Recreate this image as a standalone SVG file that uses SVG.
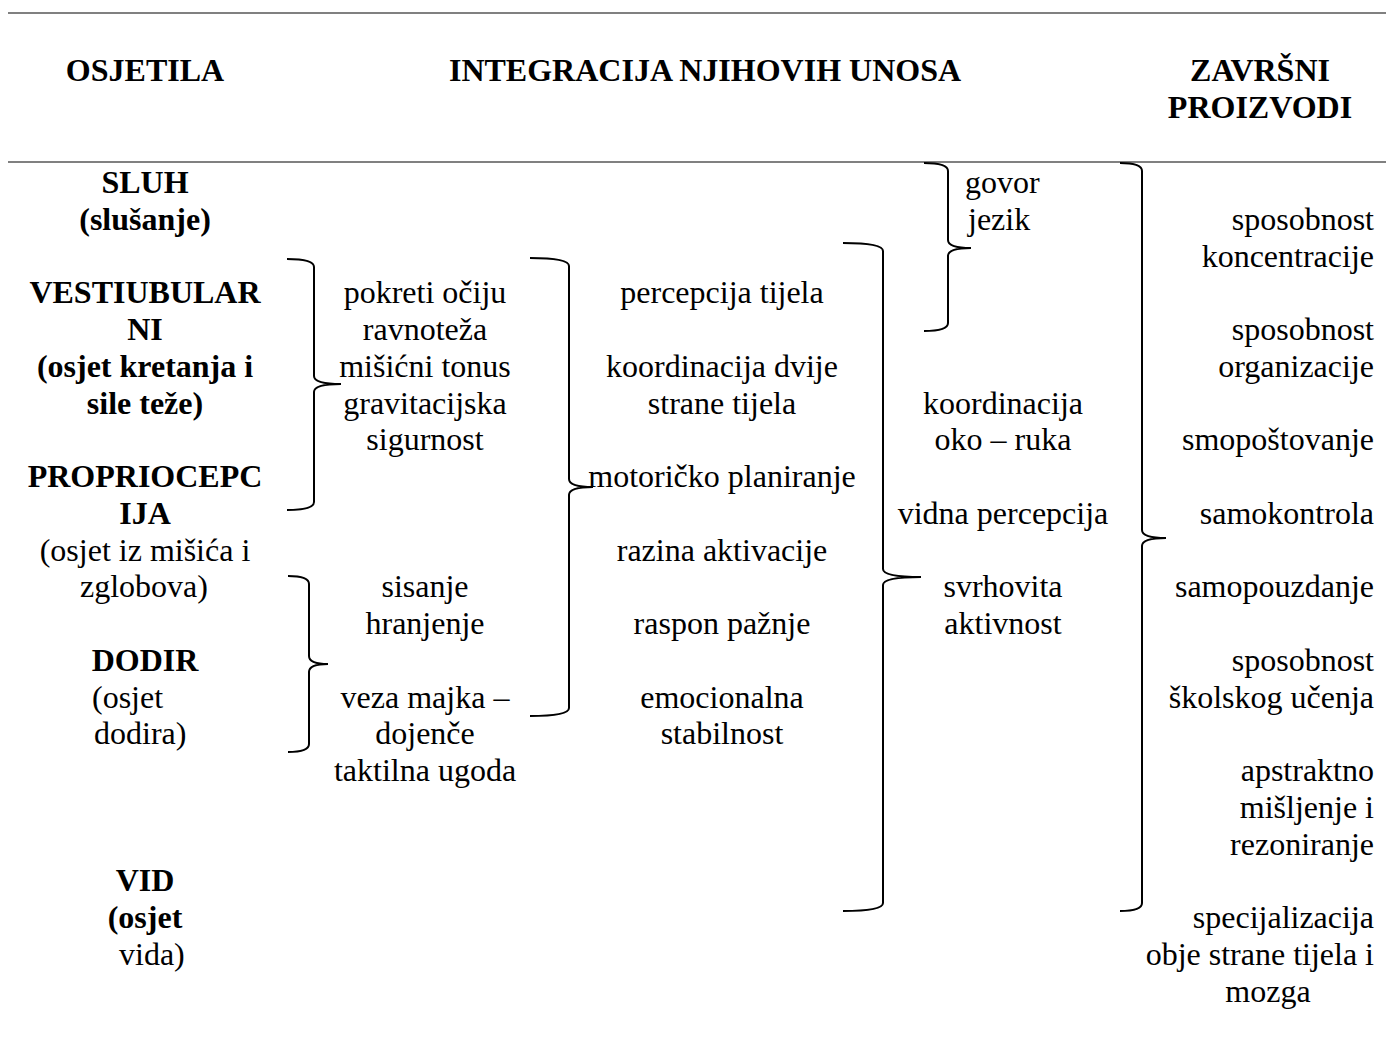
<svg xmlns="http://www.w3.org/2000/svg" width="1386" height="1039" viewBox="0 0 1386 1039">
<style>
text{font-family:"Liberation Serif","Times New Roman",serif;font-size:32px;fill:#000}
.b{font-weight:bold}
.c{text-anchor:middle}
.r{text-anchor:end}
.rule{stroke:#808080;stroke-width:2}
.brace{fill:none;stroke:#000;stroke-width:2}
</style>
<rect width="1386" height="1039" fill="#fff"/>
<g id="rules">
<line class="rule" x1="8" y1="13" x2="1386" y2="13"/>
<line class="rule" x1="8" y1="162" x2="1386" y2="162"/>
</g>
<g id="headers">
<text class="b c" x="145" y="81">OSJETILA</text>
<text class="b c" x="705" y="81">INTEGRACIJA NJIHOVIH UNOSA</text>
<text class="b c" x="1260" y="81">ZAVRŠNI</text>
<text class="b c" x="1260" y="118">PROIZVODI</text>
</g>
<g id="osjetila">
<g id="sluh"><text class="b c" x="145" y="193">SLUH</text><text class="b c" x="145" y="229.75">(slušanje)</text></g>
<g id="vestibularni"><text class="b c" x="145" y="303.25">VESTIUBULAR</text><text class="b c" x="145" y="340">NI</text><text class="b c" x="145" y="376.75">(osjet kretanja i</text><text class="b c" x="145" y="413.5">sile teže)</text></g>
<g id="propriocepcija"><text class="b c" x="145" y="487">PROPRIOCEPC</text><text class="b c" x="145" y="523.75">IJA</text><text class="c" x="145" y="560.5">(osjet iz mišića i</text><text class="c" x="144" y="597.25">zglobova)</text></g>
<g id="dodir"><text class="b c" x="145" y="670.75">DODIR</text><text x="92" y="707.5">(osjet</text><text x="94" y="744.25">dodira)</text></g>
<g id="vid"><text class="b c" x="145" y="891.25">VID</text><text class="b c" x="145" y="928">(osjet</text><text x="119" y="964.75">vida)</text></g>
</g>
<g id="integracija1">
<g id="vest-out"><text class="c" x="425" y="303.25">pokreti očiju</text><text class="c" x="425" y="340">ravnoteža</text><text class="c" x="425" y="376.75">mišićni tonus</text><text class="c" x="425" y="413.5">gravitacijska</text><text class="c" x="425" y="450.25">sigurnost</text></g>
<g id="dodir-out"><text class="c" x="425" y="597.25">sisanje</text><text class="c" x="425" y="634">hranjenje</text><text class="c" x="425" y="707.5">veza majka –</text><text class="c" x="425" y="744.25">dojenče</text><text class="c" x="425" y="781">taktilna ugoda</text></g>
</g>
<g id="integracija2">
<text class="c" x="722" y="303.25">percepcija tijela</text>
<text class="c" x="722" y="376.75">koordinacija dvije</text>
<text class="c" x="722" y="413.5">strane tijela</text>
<text class="c" x="722" y="487">motoričko planiranje</text>
<text class="c" x="722" y="560.5">razina aktivacije</text>
<text class="c" x="722" y="634">raspon pažnje</text>
<text class="c" x="722" y="707.5">emocionalna</text>
<text class="c" x="722" y="744.25">stabilnost</text>
</g>
<g id="integracija3">
<g id="govor"><text x="965" y="193">govor</text><text x="968" y="229.75">jezik</text></g>
<text class="c" x="1003" y="413.5">koordinacija</text>
<text class="c" x="1003" y="450.25">oko – ruka</text>
<text class="c" x="1003" y="523.75">vidna percepcija</text>
<text class="c" x="1003" y="597.25">svrhovita</text>
<text class="c" x="1003" y="634">aktivnost</text>
</g>
<g id="proizvodi">
<text class="r" x="1374" y="229.75">sposobnost</text>
<text class="r" x="1374" y="266.5">koncentracije</text>
<text class="r" x="1374" y="340">sposobnost</text>
<text class="r" x="1374" y="376.75">organizacije</text>
<text class="r" x="1374" y="450.25">smopoštovanje</text>
<text class="r" x="1374" y="523.75">samokontrola</text>
<text class="r" x="1374" y="597.25">samopouzdanje</text>
<text class="r" x="1374" y="670.75">sposobnost</text>
<text class="r" x="1374" y="707.5">školskog učenja</text>
<text class="r" x="1374" y="781">apstraktno</text>
<text class="r" x="1374" y="817.75">mišljenje i</text>
<text class="r" x="1374" y="854.5">rezoniranje</text>
<text class="r" x="1374" y="928">specijalizacija</text>
<text class="r" x="1374" y="964.75">obje strane tijela i</text>
<text class="c" x="1268" y="1001.5">mozga</text>
</g>
<g id="connectors">
<path class="brace" d="M287 259 Q314 259 314 267 L314 376 Q314 384 341 384 Q314 384 314 392 L314 502 Q314 510 287 510"/>
<path class="brace" d="M288 576 Q309 576 309 584 L309 656 Q309 664 328 664 Q309 664 309 672 L309 744 Q309 752 288 752"/>
<path class="brace" d="M530 258 Q569 258 569 266 L569 479 Q569 487 593 487 Q569 487 569 495 L569 708 Q569 716 530 716"/>
<path class="brace" d="M843 243 Q883 243 883 251 L883 569 Q883 577 921 577 Q883 577 883 585 L883 903 Q883 911 843 911"/>
<path class="brace" d="M924 163 Q948 163 948 171 L948 240 Q948 248 971 248 Q948 248 948 256 L948 323 Q948 331 924 331"/>
<path class="brace" d="M1120 163 Q1142 163 1142 171 L1142 530 Q1142 538 1166 538 Q1142 538 1142 546 L1142 903 Q1142 911 1120 911"/>
</g>
</svg>
